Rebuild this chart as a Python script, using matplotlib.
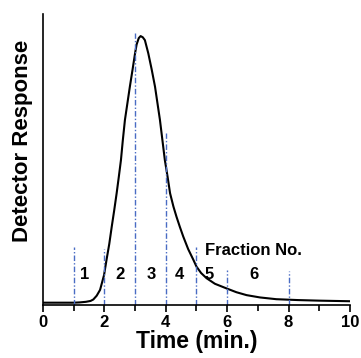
import matplotlib
matplotlib.use("Agg")
import matplotlib.pyplot as plt

plt.rcParams['font.family'] = ['Liberation Sans', 'DejaVu Sans']
plt.rcParams['font.weight'] = 'bold'

# detector trace
time = [0.0, 0.5, 1.0, 1.2, 1.4, 1.55, 1.64, 1.75, 1.86, 1.99, 2.07, 2.16, 2.24, 2.32, 2.40,
        2.47, 2.54, 2.60, 2.67, 2.75, 2.83, 2.92, 3.0, 3.05, 3.12, 3.18, 3.25, 3.32, 3.43,
        3.54, 3.65, 3.73, 3.81, 3.89, 3.97, 4.06, 4.14, 4.25, 4.35, 4.46, 4.57, 4.73, 4.90,
        5.0, 5.15, 5.33, 5.6, 5.98, 6.3, 6.63, 7.07, 7.6, 8.3, 9.0, 10.0]
response = [0.8, 0.8, 0.8, 0.9, 1.1, 1.4, 1.9, 3.2, 5.2, 10.3, 15.5, 21.0, 26.9, 32.5, 38.4,
            44.0, 49.8, 56.5, 63.6, 69.3, 75.0, 81.0, 86.5, 89.5, 91.7, 92.4, 92.0, 91.0, 86.5,
            81.0, 75.0, 69.3, 63.6, 56.7, 49.8, 44.0, 38.4, 33.8, 30.3, 26.8, 23.5, 19.2, 15.5,
            13.2, 11.0, 9.2, 7.3, 5.7, 4.4, 3.4, 2.6, 2.0, 1.7, 1.5, 1.3]

# fraction cut lines and their heights
cut_times = [1, 2, 3, 4, 5, 6, 8]
cut_heights = [19.9, 19.2, 93.6, 59.0, 20.0, 12.0, 11.7]

fraction_labels = ['1', '2', '3', '4', '5', '6']
fraction_x = [1.37, 2.5, 3.54, 4.43, 5.42, 6.87]

fig = plt.figure(figsize=(3.61, 3.58), dpi=100)
ax = fig.add_axes([0.119, 0.148, 0.8505, 0.813])

ax.plot(time, response, color='black', lw=1.5)

for t, h in zip(cut_times, cut_heights):
    ax.plot([t, t], [0, h], color='#4a6cc4', lw=1.0, linestyle=(0, (4, 1.5, 1, 1.5)))

for lab, xx in zip(fraction_labels, fraction_x):
    ax.text(xx, 10.5, lab, ha='center', va='center', fontsize=12, fontweight='bold')
ax.text(6.87, 18.7, 'Fraction No.', ha='center', va='center', fontsize=12, fontweight='bold')

ax.set_xlim(0, 10)
ax.set_ylim(0, 100)
ax.set_xticks([0, 2, 4, 6, 8, 10])
ax.set_xticks([1, 3, 5, 7, 9], minor=True)
ax.set_yticks([])
ax.tick_params(axis='x', which='major', direction='out', length=5, width=1.2, labelsize=12, pad=2)
ax.tick_params(axis='x', which='minor', direction='out', length=4, width=1.2)

ax.spines['top'].set_visible(False)
ax.spines['right'].set_visible(False)
ax.spines['left'].set_linewidth(1.2)
ax.spines['bottom'].set_linewidth(1.2)

ax.set_xlabel('Time (min.)', fontsize=16.5, fontweight='bold', labelpad=0)
ax.set_ylabel('Detector Response', fontsize=16, fontweight='bold')
ax.yaxis.set_label_coords(-0.033, 0.564)

fig.savefig('out.png', dpi=100)
